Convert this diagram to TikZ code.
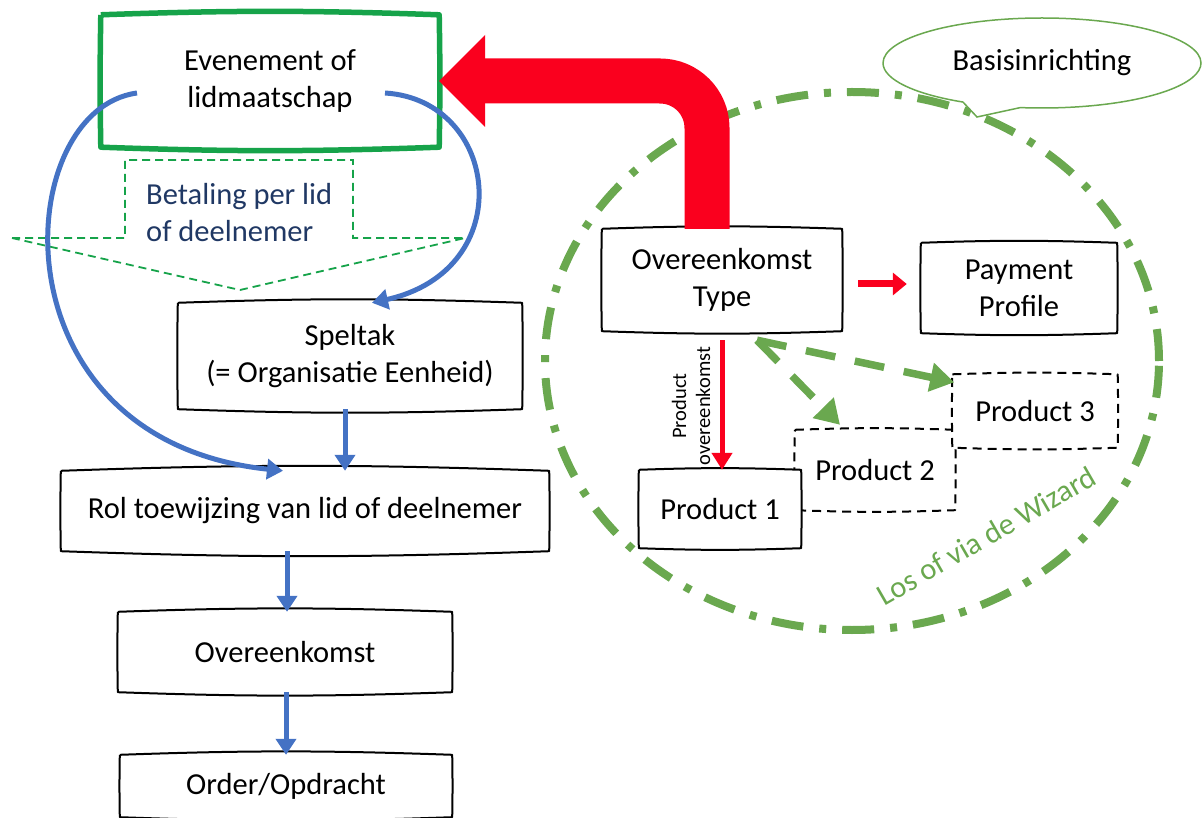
\documentclass[tikz,border=0pt]{standalone}
\usepackage{fontspec}
\setmainfont{Carlito}
\usetikzlibrary{arrows.meta,shapes.callouts,calc}
\definecolor{evgreen}{RGB}{22,163,74}
\definecolor{lgreen}{RGB}{106,168,79}
\definecolor{myblue}{RGB}{68,114,196}
\definecolor{navy}{RGB}{32,56,100}
\definecolor{myred}{RGB}{250,0,30}
\newcommand{\sketchbox}[2]{%
  \draw[line join=round,#2] (#1.north west) to[bend left=2] (#1.north east) to[bend left=1] (#1.south east) to[bend left=2] (#1.south west) to[bend left=1] (#1.north west);}
\begin{document}
\begin{tikzpicture}[x=1pt,y=-1pt,
  every node/.style={font=\fontsize{30.5}{37}\selectfont},
  box/.style={inner sep=0pt, align=center, fill=white},
  bluearr/.style={myblue, line width=5pt, -{Triangle[length=16pt,width=20pt]}},
  gdash/.style={lgreen, line width=7.5pt, dash pattern=on 30pt off 20pt, -{Triangle[length=24pt,width=28pt]}},
  dashbox/.style={line width=2pt, dash pattern=on 9pt off 6pt},
  solidbox/.style={line width=2pt}]
\useasboundingbox (0,0) rectangle (1203,818);

% big dash-dot ellipse
\draw[lgreen, line width=8pt, dash pattern=on 32pt off 16pt on 7pt off 16pt] (852,361) ellipse [x radius=307pt, y radius=269pt];

% callout
\node[ellipse callout, draw=lgreen, line width=1.5pt, fill=white, minimum width=318pt, minimum height=90pt, inner sep=0pt, callout absolute pointer={(977,117)}, callout pointer arc=22] (cb) at (1042,63) {Basisinrichting};

% left column
\node[box, fill=none, minimum width=338pt, minimum height=132pt] (ev) at (270,81) {Evenement of\\lidmaatschap};
\sketchbox{ev}{evgreen, line width=5.5pt}

\node[anchor=west, align=left, text=navy, inner sep=0pt] (bet) at (146,213) {Betaling per lid\\of deelnemer};
\draw[evgreen, line width=1.8pt, dash pattern=on 8pt off 5pt] (12,238) -- (125,238) -- (125,160) -- (353,160) -- (353,238) -- (465,238) -- (240,290) -- cycle;

\node[box, minimum width=344pt, minimum height=106pt] (sp) at (350,356) {Speltak\\(= Organisatie Eenheid)};
\sketchbox{sp}{solidbox}
\node[box, minimum width=488pt, minimum height=80pt] (rol) at (305,511) {Rol toewijzing van lid of deelnemer};
\sketchbox{rol}{solidbox}
\node[box, minimum width=334pt, minimum height=80pt] (ovk) at (285,652) {Overeenkomst};
\sketchbox{ovk}{solidbox}
\node[box, minimum width=332pt, minimum height=62pt] (ord) at (286,786) {Order/Opdracht};
\sketchbox{ord}{solidbox}

% right part
\coordinate (rb) at (707,0);
\node[box, minimum width=240pt, minimum height=102pt] (ot) at (722,280) {Overeenkomst\\Type};
\sketchbox{ot}{solidbox}
\fill[myred] (ev.east) -- ++(46,-46) -- ++(0,92) -- cycle;
\draw[myred, line width=45pt, rounded corners=47pt] (ot.north -| rb) |- ($(ev.east)+(44,0)$);

\node[box, minimum width=196pt, minimum height=90pt] (pp) at (1019,288) {Payment\\Profile};
\sketchbox{pp}{solidbox}
\draw[myred, line width=7pt, -{Triangle[length=14pt,width=22pt]}] ($(ot.east)+(16,4)$) -- ($(pp.west)+(-14,-4)$);

\node[box, minimum width=160pt, minimum height=80pt] (p2) at (875,470) {Product 2};
\sketchbox{p2}{dashbox}
\node[box, minimum width=165pt, minimum height=73pt] (p3) at (1035,411) {Product 3};
\sketchbox{p3}{dashbox}
\node[box, minimum width=162pt, minimum height=78pt] (p1) at (720,509) {Product 1};
\sketchbox{p1}{solidbox}

\draw[myred, line width=5pt, -{Triangle[length=17pt,width=20pt]}] ($(ot.south)+(0,9)$) -- (p1.north -| ot.south);
\node[rotate=90, font=\fontsize{20.5}{24}\selectfont, align=center, inner sep=0pt] (plab) at (691,406) {Product\\overeenkomst};

\coordinate (gs) at ($(ot.south)+(35,9)$);
\draw[gdash] (gs) -- ($(p3.north west)+(2,8)$);
\draw[gdash] (gs) -- ($(p2.north)+(-35,-5)$);

\node[text=lgreen, rotate=30, inner sep=0pt] (los) at (986,536) {Los of via de Wizard};

% blue connectors
\draw[bluearr] ($(ev.center)+(-133,12)$) .. controls (10,110) and (-10,440) .. (rol.north -| 283,0);
\draw[bluearr] ($(ev.center)+(115,12)$) .. controls (500,100) and (520,270) .. (sp.north -| 372,0);
\draw[bluearr] (sp.south -| 345,0) -- (rol.north -| 345,0);
\draw[bluearr] (rol.south -| 287,0) -- (ovk.north -| 287,0);
\draw[bluearr] (ovk.south -| 286,0) -- (ord.north -| 286,0);
\end{tikzpicture}
\end{document}
